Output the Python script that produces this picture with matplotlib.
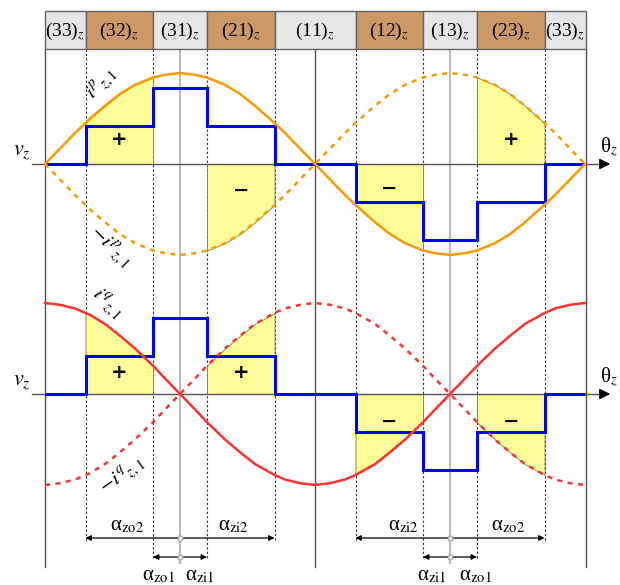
import numpy as np
import matplotlib
matplotlib.use("Agg")
import matplotlib.pyplot as plt
from matplotlib.patches import Rectangle

plt.rcParams['font.family'] = ['Liberation Serif', 'DejaVu Serif']
plt.rcParams['mathtext.fontset'] = 'stix'

# --- data ------------------------------------------------------------------
segment_labels = ['(33)', '(32)', '(31)', '(21)', '(11)', '(12)', '(13)', '(23)', '(33)']
segment_edges = [0, 27, 72, 108, 153, 207, 252, 288, 333, 360.5]
segment_tan = [False, True, False, True, False, True, False, True, False]

switch_angles = [27, 72, 108, 153, 207, 252, 288, 333]
step_edges = [0, 27, 72, 108, 153, 207, 252, 288, 333, 360]
v_levels = [0, 0.42, 0.84, 0.42, 0, -0.42, -0.84, -0.42, 0]

theta = [0, 10, 20, 27, 30, 40, 50, 60, 72, 80, 90, 100, 108, 120, 130, 140,
         153, 160, 170, 180, 190, 200, 207, 220, 230, 240, 252, 260, 270, 280,
         288, 300, 310, 320, 333, 340, 350, 360]
i_p = [0, 0.17, 0.34, 0.45, 0.50, 0.64, 0.77, 0.87, 0.95, 0.98, 1.00, 0.98,
       0.95, 0.87, 0.77, 0.64, 0.45, 0.34, 0.17, 0, -0.17, -0.34, -0.45,
       -0.64, -0.77, -0.87, -0.95, -0.98, -1.00, -0.98, -0.95, -0.87, -0.77,
       -0.64, -0.45, -0.34, -0.17, 0]
i_q = [1.00, 0.98, 0.94, 0.89, 0.87, 0.77, 0.64, 0.50, 0.31, 0.17, 0, -0.17,
       -0.31, -0.50, -0.64, -0.77, -0.89, -0.94, -0.98, -1.00, -0.98, -0.94,
       -0.89, -0.77, -0.64, -0.50, -0.31, -0.17, 0, 0.17, 0.31, 0.50, 0.64,
       0.77, 0.89, 0.94, 0.98, 1.00]

# shaded intervals: (start, end, +1 -> i, -1 -> -i)
fill_spans = [(27, 72, 1), (108, 153, -1), (207, 252, 1), (288, 333, -1)]
p_signs = ['+', '−', '−', '+']
q_signs = ['+', '+', '−', '−']
sign_x = [49.5, 130.5, 229.5, 310.5]
p_sign_y = [0.27, -0.29, -0.27, 0.27]
q_sign_y = [0.24, 0.24, -0.30, -0.30]

# --- layout (pixel rows, x in degrees) -------------------------------------
AMP = 91
Y_TOP, Y_BOT = 164, 394
HDR_T, HDR_B = 11, 49

orange, red, blue = '#FF9900', '#FF3333', '#0000FF'
yellow = '#FFFF99'

fig = plt.figure(figsize=(6.2, 5.85), dpi=100)
ax = fig.add_axes([0, 0, 1, 1])
ax.set_xlim(-30, 383.33)
ax.set_ylim(585, 0)
ax.axis('off')

th = np.array(theta, dtype=float)

# header
for lab, l, r, tan in zip(segment_labels, segment_edges[:-1], segment_edges[1:], segment_tan):
    ax.add_patch(Rectangle((l, HDR_T), r - l, HDR_B - HDR_T,
                           facecolor='#CC9966' if tan else '#E6E6E6',
                           edgecolor='#666666', lw=1, zorder=3))
    ax.text((l + r) / 2, (HDR_T + HDR_B) / 2 + 1, lab + '$_z$', fontsize=14,
            ha='center', va='center', zorder=4)

# vertical guide lines
for a in [0, 180, 360.5]:
    ax.plot([a, a], [HDR_B, 567], color='#555555', lw=1, zorder=1)
for a in [90, 270]:
    ax.plot([a, a], [HDR_B, 563], color='#BBBBBB', lw=1.5, zorder=1)
for a in switch_angles:
    outer = a in (27, 153, 207, 333)
    ax.plot([a, a], [HDR_B, 541 if outer else 560], color='#333333', lw=0.8,
            ls=(0, (2, 2)), zorder=1)


def panel(y0, cur, col, signs, sign_y, labels):
    cur = np.array(cur)
    for (s, e, k), sg, sx, sy in zip(fill_spans, signs, sign_x, sign_y):
        m = (th >= s) & (th <= e)
        ax.fill_between(th[m], y0, y0 - AMP * k * cur[m], facecolor=yellow,
                        edgecolor='#8C7A3A', lw=0.6, zorder=2)
        ax.text(sx, y0 - AMP * sy, sg, fontsize=14, fontweight='bold',
                family='DejaVu Sans', ha='center', va='center', zorder=6)
    # axis with arrow
    ax.plot([-8.7, 372], [y0, y0], color='#555555', lw=1, zorder=3)
    ax.annotate('', xy=(378.7, y0), xytext=(369, y0),
                arrowprops=dict(arrowstyle='-|>', color='black', lw=1,
                                mutation_scale=16), zorder=3)
    # step voltage
    ax.stairs([y0 - AMP * v for v in v_levels], step_edges, baseline=None,
              color=blue, lw=2.2, zorder=4)
    ax.plot(th, y0 - AMP * cur, color=col, lw=1.8, zorder=5)
    ax.plot(th, y0 + AMP * cur, color=col, lw=1.8, ls=(0, (2, 2.2)), zorder=5)
    ax.text(-15.3, y0 - 12, '$v_z$', fontsize=16, ha='center', va='center')
    ax.text(376, y0 - 17, 'θ$_z$', fontsize=15, ha='center', va='center')
    for txt, x, dy, rot in labels:
        ax.text(x, y0 + dy, txt, fontsize=15, rotation=rot, rotation_mode='anchor',
                ha='center', va='center', zorder=6)


panel(Y_TOP, i_p, orange, p_signs, p_sign_y,
      [(r'$i^{p}{}_{z,1}$', 38.5, -80, 45), (r'$-i^{p}{}_{z,1}$', 43.5, 84, -45)])
panel(Y_BOT, i_q, red, q_signs, q_sign_y,
      [(r'$i^{q}{}_{z,1}$', 41.5, -90, -45), (r'$-i^{q}{}_{z,1}$', 52, 82, 35)])

# alpha annotations
Y_LONG, Y_SHORT = 538, 557
groups = [(90, [27, 153], [72, 108]), (270, [207, 333], [252, 288])]
long_labels = [['zo2', 'zi2'], ['zi2', 'zo2']]
short_labels = [['zo1', 'zi1'], ['zi1', 'zo1']]
long_lx = [[54.7, 125.3], [238.7, 308.5]]
short_lx = [[75.3, 103.3], [258, 287]]
for (c, lng, sht), ll, sl, llx, slx in zip(groups, long_labels, short_labels, long_lx, short_lx):
    for end in lng:
        ax.annotate('', xy=(end, Y_LONG), xytext=(c, Y_LONG),
                    arrowprops=dict(arrowstyle='-|>', color='black', lw=0.9,
                                    mutation_scale=8, shrinkA=0, shrinkB=0))
    for end in sht:
        ax.annotate('', xy=(end, Y_SHORT), xytext=(c, Y_SHORT),
                    arrowprops=dict(arrowstyle='-|>', color='black', lw=0.9,
                                    mutation_scale=8, shrinkA=0, shrinkB=0))
    ax.plot([c, c], [Y_LONG, Y_SHORT], ls='none', marker='o', ms=3.5,
            mfc='white', mec='#999999', mew=0.8, zorder=5)
    for s, x in zip(ll, llx):
        ax.text(x, Y_LONG - 12, 'α$_{\\mathrm{%s}}$' % s, fontsize=15,
                ha='center', va='center')
    for s, x in zip(sl, slx):
        ax.text(x, Y_SHORT + 19, 'α$_{\\mathrm{%s}}$' % s, fontsize=15,
                ha='center', va='center')

fig.savefig('out.png', dpi=100)
